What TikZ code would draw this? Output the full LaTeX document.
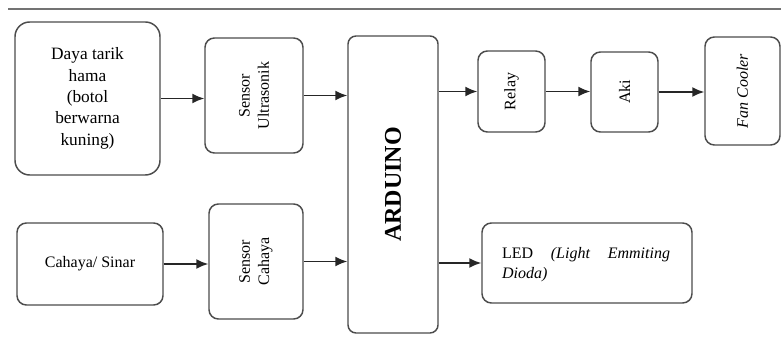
\documentclass[tikz,border=0pt]{standalone}
\usepackage{fontspec}
\setmainfont{Liberation Serif}
\usepackage{tikz}
\usetikzlibrary{arrows.meta,calc,positioning}

\begin{document}
\begin{tikzpicture}[x=0.75pt, y=-0.75pt,
  blok/.style={draw=black!70, line width=1.1pt, rounded corners=7pt, inner sep=0pt,
    align=center, font=\fontsize{12}{14.5}\selectfont},
  panah/.style={-{Latex[length=9pt,width=7.5pt]}, line width=1.2pt, black!85}]
\useasboundingbox (0,0) rectangle (781,338);
% top rule of the page
\draw[black!55, line width=1.5pt] (8,9.5) -- (781,9.5);
% inputs
\node[blok, rounded corners=11pt, minimum width=108.75pt, minimum height=114.75pt,
  font=\fontsize{13}{16}\selectfont] (daya) at (87.5,98.5)
  {Daya tarik\\hama\\(botol\\berwarna\\kuning)};
\node[blok, minimum width=109.5pt, minimum height=61.5pt] (cahaya) at (90,264) {Cahaya/ Sinar};
% sensors (rotated: north = left side, south = right side)
\node[blok, minimum width=86.25pt, minimum height=73.5pt, rotate=90] (ultra) at (254,95.5)
  {Sensor\\Ultrasonik};
\node[blok, minimum width=86.25pt, minimum height=70.5pt, rotate=90] (scahaya) at (256,261.5)
  {Sensor\\Cahaya};
% controller
\node[blok, rounded corners=6pt, minimum width=222.75pt, minimum height=67.5pt, rotate=90,
  font=\fontsize{18}{20}\selectfont\bfseries] (ard) at (393,184.5) {ARDUINO};
% outputs
\node[blok, minimum width=60.75pt, minimum height=50.25pt, rotate=90] (relay) at (511.5,91.5) {Relay};
\node[blok, minimum width=60pt, minimum height=50.25pt, rotate=90] (aki) at (624.5,92) {Aki};
\node[blok, minimum width=81pt, minimum height=56.25pt, rotate=90,
  font=\fontsize{12}{14.5}\selectfont\itshape] (fan) at (742.5,91) {Fan Cooler};
\node[blok, minimum width=157.5pt, minimum height=60pt] (led) at (587,263) {};
\node[inner sep=0pt, text width=126pt, align=justify, font=\fontsize{12}{15}\selectfont]
  (ledtxt) at (586,265) {LED \textit{(Light Emmiting\linebreak Dioda)}};
% arrows
\draw[panah] (daya.east) -- (daya.east -| ultra.north);
\draw[panah] (ultra.south) -- (ultra.south -| ard.north);
\draw[panah] (cahaya.east) -- (cahaya.east -| scahaya.north);
\draw[panah] (scahaya.south) -- (scahaya.south -| ard.north);
\draw[panah] (ard.south |- relay.north) -- (relay.north);
\draw[panah] (relay.south) -- (relay.south -| aki.north);
\draw[panah] (aki.south) -- (aki.south -| fan.north);
\draw[panah] (ard.south |- led.west) -- (led.west);
\end{tikzpicture}
\end{document}
